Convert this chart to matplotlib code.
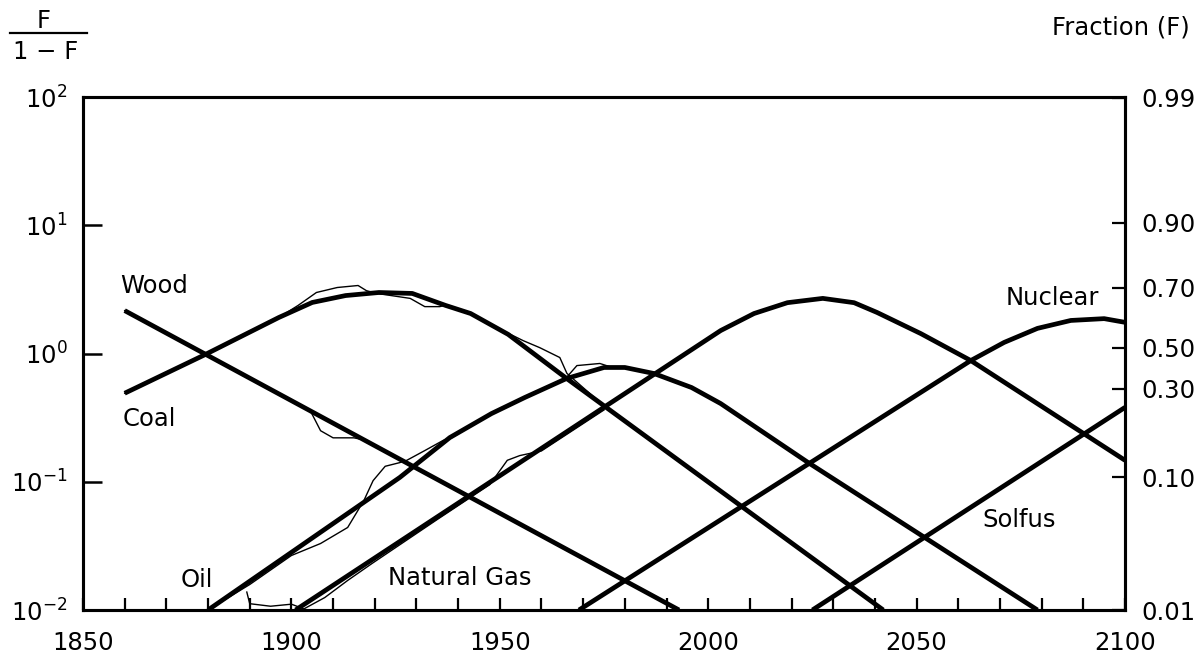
import matplotlib
matplotlib.use('Agg')
import matplotlib.pyplot as plt
from matplotlib.ticker import FixedLocator, NullLocator, FixedFormatter
from matplotlib.lines import Line2D

plt.rcParams['font.family'] = ['DejaVu Sans']
plt.rcParams['mathtext.fontset'] = 'dejavusans'

# ---------------- data (F/(1-F) values) ----------------
wood_years = [1860, 1993]
wood_vals = [2.16, 0.01]

coal_years = [1860, 1879, 1897, 1905, 1913, 1921, 1929, 1937, 1943, 1952, 1966, 2042]
coal_vals = [0.49, 0.97, 1.91, 2.50, 2.83, 2.99, 2.94, 2.37, 2.05, 1.41, 0.64, 0.01]

oil_years = [1880, 1926, 1938, 1948, 1956, 1966, 1975, 1980, 1987, 1996, 2003, 2024, 2079]
oil_vals = [0.01, 0.108, 0.221, 0.340, 0.454, 0.638, 0.778, 0.778, 0.698, 0.543, 0.407, 0.141, 0.01]

gas_years = [1901, 2003, 2011, 2019, 2027.5, 2035, 2040.5, 2051, 2063, 2100]
gas_vals = [0.01, 1.51, 2.05, 2.49, 2.69, 2.49, 2.09, 1.43, 0.881, 0.147]

nuclear_years = [1969, 2063, 2071, 2079, 2087, 2095, 2100]
nuclear_vals = [0.01, 0.881, 1.22, 1.57, 1.81, 1.87, 1.75]

solfus_years = [2025, 2100]
solfus_vals = [0.01, 0.38]

# historical (thin) data lines
wood_hist_years = [1860, 1880, 1900, 1904.5, 1907, 1910, 1915, 1918, 1940, 1970]
wood_hist_vals = [2.16, 0.95, 0.43, 0.36, 0.25, 0.22, 0.22, 0.21, 0.085, 0.025]

coal_hist_years = [1860, 1879, 1897, 1901.6, 1906, 1911, 1916, 1918, 1920.5, 1928.5, 1932,
                   1935.6, 1937.3, 1943, 1950, 1955.6, 1959.6, 1964.4, 1966.1, 1975]
coal_hist_vals = [0.49, 0.97, 1.91, 2.37, 2.99, 3.27, 3.39, 3.09, 2.94, 2.69, 2.32,
                  2.32, 2.40, 2.05, 1.55, 1.26, 1.11, 0.93, 0.70, 0.39]

oil_hist_years = [1880, 1890, 1900, 1907, 1913.5, 1917.4, 1919.6, 1922.5, 1926, 1927.7, 1932,
                  1936.4, 1938.5, 1948, 1956, 1966, 1968.5, 1974, 1977]
oil_hist_vals = [0.01, 0.0158, 0.0266, 0.033, 0.044, 0.0715, 0.102, 0.132, 0.141, 0.147, 0.175,
                 0.21, 0.221, 0.340, 0.454, 0.65, 0.805, 0.836, 0.778]

gas_hist_years = [1889.3, 1890, 1895, 1900, 1903, 1908, 1913.5, 1919.3, 1935, 1947.6, 1951.8,
                  1954.8, 1960, 1975]
gas_hist_vals = [0.0138, 0.0112, 0.0107, 0.0111, 0.0102, 0.0125, 0.017, 0.023, 0.0508, 0.095, 0.147,
                 0.16, 0.174, 0.363]

labels = ["Wood", "Coal", "Oil", "Natural Gas", "Nuclear", "Solfus"]
label_years = [1867.0, 1865.8, 1877.4, 1940.5, 2082.5, 2074.6]
label_vals = [3.39, 0.311, 0.017, 0.0179, 2.73, 0.050]

x_label_years = [1850, 1900, 1950, 2000, 2050, 2100]
x_minor_years = list(range(1850, 2101, 10))
left_ticks = [0.01, 0.1, 1, 10, 100]
left_labels = [r'$\mathregular{10^{-2}}$', r'$\mathregular{10^{-1}}$', r'$\mathregular{10^{0}}$',
               r'$\mathregular{10^{1}}$', r'$\mathregular{10^{2}}$']
right_ticks = [0.01, 0.108, 0.533, 1.11, 3.27, 10.5, 99]
right_labels = ["0.01", "0.10", "0.30", "0.50", "0.70", "0.90", "0.99"]

# ---------------- figure ----------------
fig = plt.figure(figsize=(12.03, 6.63), dpi=100)
ax = fig.add_axes([83/1203, 53/663, 1042/1203, 513/663])

thick = dict(color='black', lw=3.4, solid_capstyle='butt', solid_joinstyle='round')
thin = dict(color='black', lw=1.0, solid_joinstyle='round')

for yrs, vals in [(wood_years, wood_vals), (coal_years, coal_vals), (oil_years, oil_vals),
                  (gas_years, gas_vals), (nuclear_years, nuclear_vals), (solfus_years, solfus_vals)]:
    ax.plot(yrs, vals, **thick)
for yrs, vals in [(wood_hist_years, wood_hist_vals), (coal_hist_years, coal_hist_vals),
                  (oil_hist_years, oil_hist_vals), (gas_hist_years, gas_hist_vals)]:
    ax.plot(yrs, vals, **thin)

ax.set_yscale('log')
ax.set_xlim(1850, 2100)
ax.set_ylim(0.01, 100)

fs = 17.5
for t, xv, yv in zip(labels, label_years, label_vals):
    ax.text(xv, yv, t, fontsize=fs, ha='center', va='center')

# x axis
ax.xaxis.set_major_locator(FixedLocator(x_label_years))
ax.xaxis.set_major_formatter(FixedFormatter([str(v) for v in x_label_years]))
ax.xaxis.set_minor_locator(FixedLocator(x_minor_years))
ax.tick_params(axis='x', which='both', direction='in', length=9, width=1.6, pad=15,
               labelsize=fs, top=False)

# left y axis
ax.yaxis.set_major_locator(FixedLocator(left_ticks))
ax.yaxis.set_major_formatter(FixedFormatter(left_labels))
ax.yaxis.set_minor_locator(NullLocator())
ax.tick_params(axis='y', which='major', direction='in', length=14, width=1.8, pad=11,
               labelsize=fs, right=False)

# right y axis
ax2 = ax.twinx()
ax2.set_yscale('log')
ax2.set_ylim(0.01, 100)
ax2.yaxis.set_major_locator(FixedLocator(right_ticks))
ax2.yaxis.set_major_formatter(FixedFormatter(right_labels))
ax2.yaxis.set_minor_locator(NullLocator())
ax2.tick_params(axis='y', which='major', direction='in', length=9.5, width=1.6, pad=12,
                labelsize=fs)

for a in (ax, ax2):
    for s in a.spines.values():
        s.set_linewidth(2.2)

# axis titles
fig.text(44/1203, 1 - 21/663, "F", fontsize=fs, ha='center', va='center')
fig.add_artist(Line2D([10/1203, 87/1203], [1 - 33/663, 1 - 33/663], color='black', lw=1.6))
fig.text(46/1203, 1 - 52/663, "1 \u2212 F", fontsize=fs, ha='center', va='center')
fig.text(1190/1203, 1 - 28/663, "Fraction (F)", fontsize=fs, ha='right', va='center')

fig.savefig('out.png', dpi=100)
